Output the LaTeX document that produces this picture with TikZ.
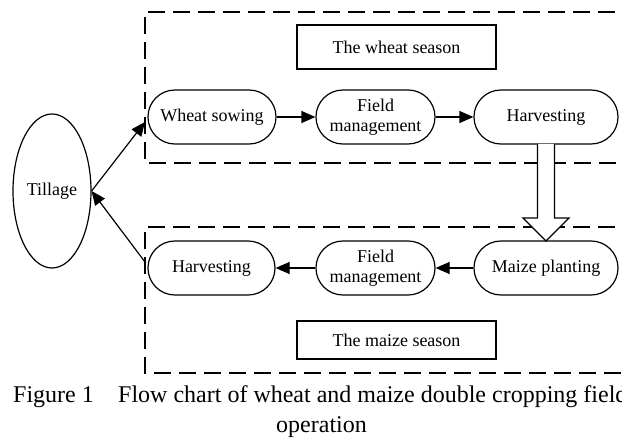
\documentclass[tikz,border=0pt]{standalone}
\usepackage{fontspec}
\setmainfont{Liberation Serif}
\usetikzlibrary{arrows.meta,shapes.geometric}
\begin{document}
\begin{tikzpicture}[x=1pt,y=-1pt,
  every node/.style={font=\fontsize{18}{20}\selectfont},
  stage/.style={draw,line width=1.2pt,rectangle,rounded corners=26.9pt,minimum width=128pt,minimum height=54pt,inner sep=0pt,align=center},
  seasonbox/.style={draw,line width=1.2pt,rectangle,minimum width=199pt,minimum height=44pt,inner sep=0pt},
  dashbox/.style={line width=2.8pt,dash pattern=on 17pt off 8pt},
  flow/.style={line width=1.2pt,-{Triangle[length=14pt,width=12pt]}},
  caption/.style={font=\fontsize{24}{30}\selectfont,inner sep=0pt,anchor=base west}]
\useasboundingbox (0,0) rectangle (622,438);
\clip (0,0) rectangle (622,438);
% dashed season frames
\draw[dashbox] (640,12) -- (145,12) -- (145,163) -- (640,163);
\draw[dashbox] (640,227) -- (145,227) -- (145,373) -- (640,373);
% season labels
\node[seasonbox] (ws) at (396.5,47) {The wheat season};
\node[seasonbox,minimum height=38pt] (ms) at (396.5,340) {The maize season};
% tillage
\node[draw,line width=1.2pt,ellipse,minimum width=78pt,minimum height=154pt,inner sep=0pt] (till) at (52,191) {Tillage};
% wheat row
\node[stage] (sow) at (212,117) {Wheat sowing};
\node[stage,minimum width=119pt] (fm1) at (375.5,117) {Field\\management};
\node[stage,minimum width=144pt] (hv1) at (546,117) {Harvesting};
% maize row
\node[stage,minimum width=127pt] (hv2) at (211.5,268) {Harvesting};
\node[stage,minimum width=119pt] (fm2) at (375.5,268) {Field\\management};
\node[stage,minimum width=144pt] (mp) at (546,268) {Maize planting};
% connectors
\coordinate (in1) at (145,122);
\coordinate (out1) at (145,262);
\draw[flow] (till.east) -- (in1);
\draw[flow] (out1) -- (till.east);
\draw[flow] (sow) -- (fm1);
\draw[flow] (fm1) -- (hv1);
\draw[flow] (mp) -- (fm2);
\draw[flow] (fm2) -- (hv2);
% block arrow
\draw[line width=1.2pt,fill=white,line join=miter] (537.5,144) -- (537.5,218) -- (523,218)
  -- (546,241) -- (569,218) -- (554.5,218) -- (554.5,144);
% caption
\node[caption] (fig) at (13,403) {Figure 1};
\node[caption] (cap1) at (118,403) {Flow chart of wheat and maize double cropping field};
\node[caption] (cap2) at (276,433) {operation};
\end{tikzpicture}
\end{document}
